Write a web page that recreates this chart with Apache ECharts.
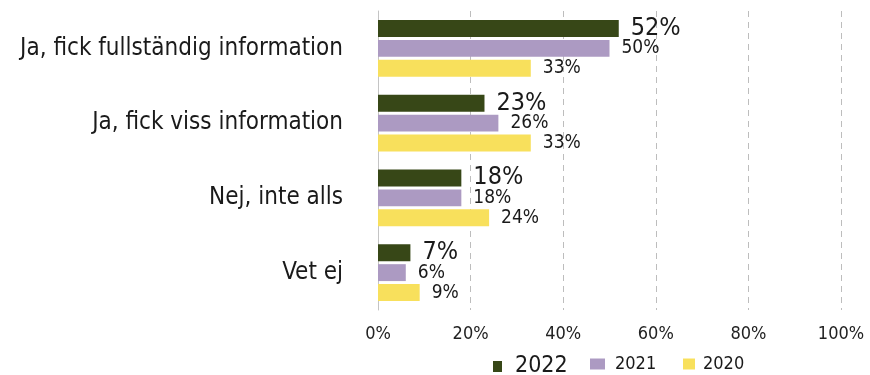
<!DOCTYPE html>
<html><head><meta charset="utf-8">
<script src="https://cdn.jsdelivr.net/npm/echarts@6/dist/echarts.min.js"></script>
<style>html,body{margin:0;padding:0;background:#fff}#c{width:870px;height:375px}</style>
</head><body><div id="c"></div>
<script>
const categories = ['Ja, fick fullständig information', 'Ja, fick viss information', 'Nej, inte alls', 'Vet ej'];
const seriesNames = ['2022', '2021', '2020'];
const values2022 = [52, 23, 18, 7];
const values2021 = [50, 26, 18, 6];
const values2020 = [33, 33, 24, 9];
const xTicks = [0, 20, 40, 60, 80, 100];

const FONT = 'DejaVu Sans Condensed';
const colors = ['#374717', '#ac9ac2', '#f8e05c'];
const chart = echarts.init(document.getElementById('c'));
const allVals = [values2022, values2021, values2020];
const legendPos = [
  { left: 488, top: 350, fs: 23, iw: 9, ih: 11, pad: 8 },
  { left: 585, top: 350, fs: 18, iw: 15, ih: 11, pad: 5 },
  { left: 678, top: 350, fs: 18, iw: 12, ih: 11, pad: 3 }
];
chart.setOption({
  animation: false,
  textStyle: { fontFamily: FONT },
  grid: { left: 378, right: 29, top: 11, bottom: 65 },
  xAxis: {
    type: 'value', min: xTicks[0], max: xTicks[xTicks.length - 1], interval: 20,
    axisLabel: { formatter: '{value}%', fontSize: 18, color: '#222', margin: 15, fontFamily: FONT },
    axisLine: { show: false }, axisTick: { show: false },
    splitLine: { show: true, lineStyle: { type: [6, 5], color: '#bdbdbd', width: 1 } }
  },
  yAxis: {
    type: 'category', data: categories, inverse: true,
    axisLine: { show: true, lineStyle: { color: '#c4c4c4', width: 1 } },
    axisTick: { show: false },
    axisLabel: { fontSize: 24, color: '#1a1a1a', margin: 35, fontFamily: FONT }
  },
  legend: seriesNames.map((n, i) => ({
    left: legendPos[i].left, top: legendPos[i].top,
    itemWidth: legendPos[i].iw, itemHeight: legendPos[i].ih,
    icon: 'rect', data: [n], selectedMode: false,
    textStyle: { fontFamily: FONT, fontSize: legendPos[i].fs, color: '#1a1a1a', padding: [0, 0, 0, legendPos[i].pad] }
  })),
  series: seriesNames.map((n, i) => ({
    name: n, type: 'bar', data: allVals[i],
    barCategoryGap: '24%', barGap: '18%',
    itemStyle: { color: colors[i] },
    label: {
      show: true, position: 'right', distance: 12,
      formatter: '{c}%', fontSize: i === 0 ? 25 : 19, color: '#1a1a1a', fontFamily: FONT
    }
  }))
});
</script></body></html>
